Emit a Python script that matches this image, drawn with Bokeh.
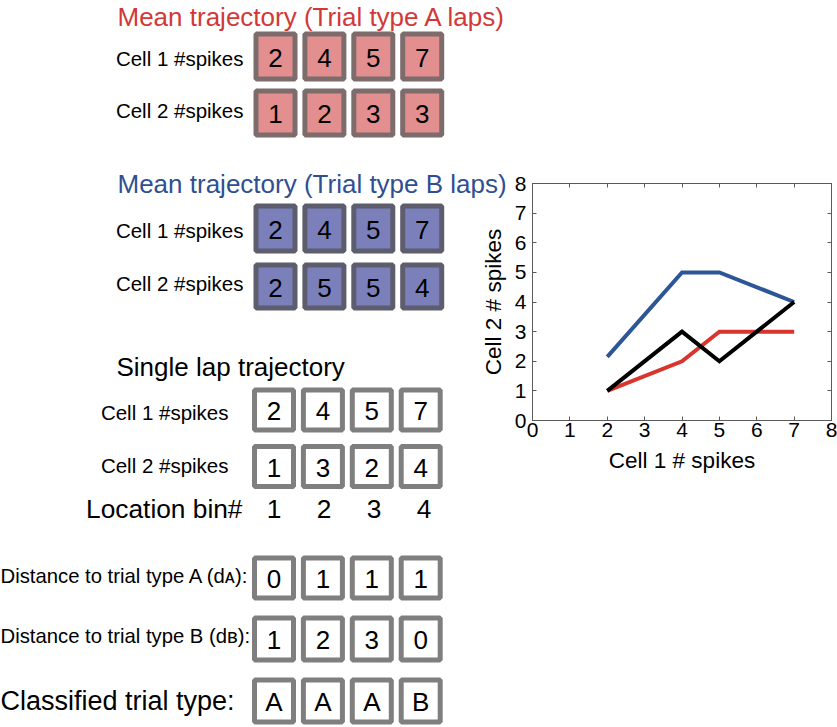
from bokeh.plotting import figure
from bokeh.models import Range1d, LinearAxis, FixedTicker
from bokeh.embed import file_html
from bokeh.resources import INLINE
from bokeh.core.properties import value

# ---------------- data ----------------
location_bins = [1, 2, 3, 4]
cell1_A = [2, 4, 5, 7]
cell2_A = [1, 2, 3, 3]
cell1_B = [2, 4, 5, 7]
cell2_B = [2, 5, 5, 4]
cell1_S = [2, 4, 5, 7]
cell2_S = [1, 3, 2, 4]
dist_A = [0, 1, 1, 1]
dist_B = [1, 2, 3, 0]
classified = ["A", "A", "A", "B"]

# trajectories as drawn in the state-space plot
traj_A_x = [2, 4, 5, 7]
traj_A_y = [1, 2, 3, 3]
traj_B_x = [2, 4, 5, 7]
traj_B_y = [2.15, 5, 5, 4]
traj_S_x = [2, 4, 5, 7]
traj_S_y = [1, 3, 2, 4]
axis_ticks = [0, 1, 2, 3, 4, 5, 6, 7, 8]

FONT = value("Liberation Sans")
RED_T = "#d23838"
BLUE_T = "#2f4f92"

W, H = 837, 727
L, R, T, B = 532, 831, 183, 420

p = figure(width=W, height=H, x_range=Range1d(0, 8), y_range=Range1d(0, 8),
           output_backend="svg", toolbar_location=None,
           min_border_left=L, min_border_right=W - R, min_border_top=T,
           min_border_bottom=H - B)
p.grid.visible = False
p.outline_line_color = "#5a5a5a"
p.outline_line_width = 1
p.background_fill_color = "white"
p.border_fill_color = "white"

for ax in (p.xaxis[0], p.yaxis[0]):
    ax.ticker = FixedTicker(ticks=axis_ticks)
    ax.major_tick_in = 4
    ax.major_tick_out = 0
    ax.minor_tick_line_color = None
    ax.axis_line_color = "#5a5a5a"
    ax.major_tick_line_color = "#5a5a5a"
    ax.major_label_text_font = "Liberation Sans"
    ax.major_label_text_font_size = "21px"
    ax.major_label_text_color = "black"
    ax.axis_label_text_font = "Liberation Sans"
    ax.axis_label_text_font_size = "22.5px"
    ax.axis_label_text_font_style = "normal"
    ax.axis_label_text_color = "black"

p.xaxis.axis_label = "Cell 1 # spikes"
p.yaxis.axis_label = "Cell 2 # spikes"
p.xaxis.major_label_standoff = 2
p.xaxis.axis_label_standoff = 8
p.yaxis.major_label_standoff = 6
p.yaxis.axis_label_standoff = 6

for loc in ("above", "right"):
    ax = LinearAxis(ticker=FixedTicker(ticks=axis_ticks), major_tick_in=4, major_tick_out=0,
                    minor_tick_line_color=None, axis_line_color="#5a5a5a",
                    major_tick_line_color="#5a5a5a", major_label_text_font_size="1px",
                    major_label_text_color=None, major_label_standoff=0)
    p.add_layout(ax, loc)

# trajectories
p.line(traj_A_x, traj_A_y, line_color="#d7352d", line_width=4, line_join="miter")
p.line(traj_B_x, traj_B_y, line_color="#2d5698", line_width=4, line_join="miter")
p.line(traj_S_x, traj_S_y, line_color="black", line_width=4, line_join="miter")

# ---------------- diagram (layout coordinates = screen pixels) ----------------
p.extra_x_ranges = {"d": Range1d(L, R)}
p.extra_y_ranges = {"d": Range1d(B, T)}

def dtext(xs, ys, texts, size, color="black", align="left"):
    p.text(x=xs, y=ys, text=texts, x_range_name="d", y_range_name="d", level="overlay",
           text_font=FONT, text_font_size=f"{size}px", text_align=align,
           text_baseline="middle", text_color=color)

def box_row(x0, pitch, yc, h, vals, fill, line, bw=39):
    xs = [x0 + i * pitch for i in range(len(vals))]
    p.quad(left=[x - bw / 2 for x in xs], right=[x + bw / 2 for x in xs],
           top=[yc - h / 2] * len(xs), bottom=[yc + h / 2] * len(xs),
           fill_color=fill, line_color=line, line_width=5,
           x_range_name="d", y_range_name="d", level="overlay")
    dtext(xs, [yc + 1] * len(xs), [str(v) for v in vals], 26, align="center")

# Trial type A
dtext([117], [16], ["Mean trajectory (Trial type A laps)"], 26, RED_T)
dtext([243], [58], ["Cell 1 #spikes"], 20.5, align="right")
dtext([243], [110], ["Cell 2 #spikes"], 20.5, align="right")
box_row(275, 48.9, 56, 45, cell1_A, "#e38f8f", "#7d6c6c")
box_row(275, 48.9, 112.5, 44, cell2_A, "#e38f8f", "#7d6c6c")

# Trial type B
dtext([117], [183], ["Mean trajectory (Trial type B laps)"], 26, BLUE_T)
dtext([243], [230], ["Cell 1 #spikes"], 20.5, align="right")
dtext([243], [283], ["Cell 2 #spikes"], 20.5, align="right")
box_row(275, 48.9, 228, 45, cell1_B, "#7b80bb", "#5d5d6e")
box_row(275, 48.9, 286, 43, cell2_B, "#7b80bb", "#5d5d6e")

# Single lap
dtext([116], [366], ["Single lap trajectory"], 26)
dtext([228], [412], ["Cell 1 #spikes"], 20.5, align="right")
dtext([228], [465], ["Cell 2 #spikes"], 20.5, align="right")
box_row(273.5, 48.9, 409.5, 40, cell1_S, "white", "#7f7f7f")
box_row(273.5, 48.9, 466, 40, cell2_S, "white", "#7f7f7f")

# Location bins
dtext([242], [508], ["Location bin#"], 26.3, align="right")
dtext([273.5 + i * 50 for i in range(4)], [508] * 4, [str(b) for b in location_bins], 26.3, align="center")

# Distances and classification
dtext([0], [575], ["Distance to trial type A (d\u1d00):"], 20.3)
box_row(273.5, 48.9, 577.5, 40, dist_A, "white", "#7f7f7f")
dtext([0], [635], ["Distance to trial type B (d\u0299):"], 20.3)
box_row(273.5, 48.9, 638.5, 42, dist_B, "white", "#7f7f7f")
dtext([0], [700], ["Classified trial type:"], 27)
box_row(273.5, 48.9, 700.5, 42, classified, "white", "#7f7f7f")

open("out.html", "w").write(file_html(p, INLINE))
